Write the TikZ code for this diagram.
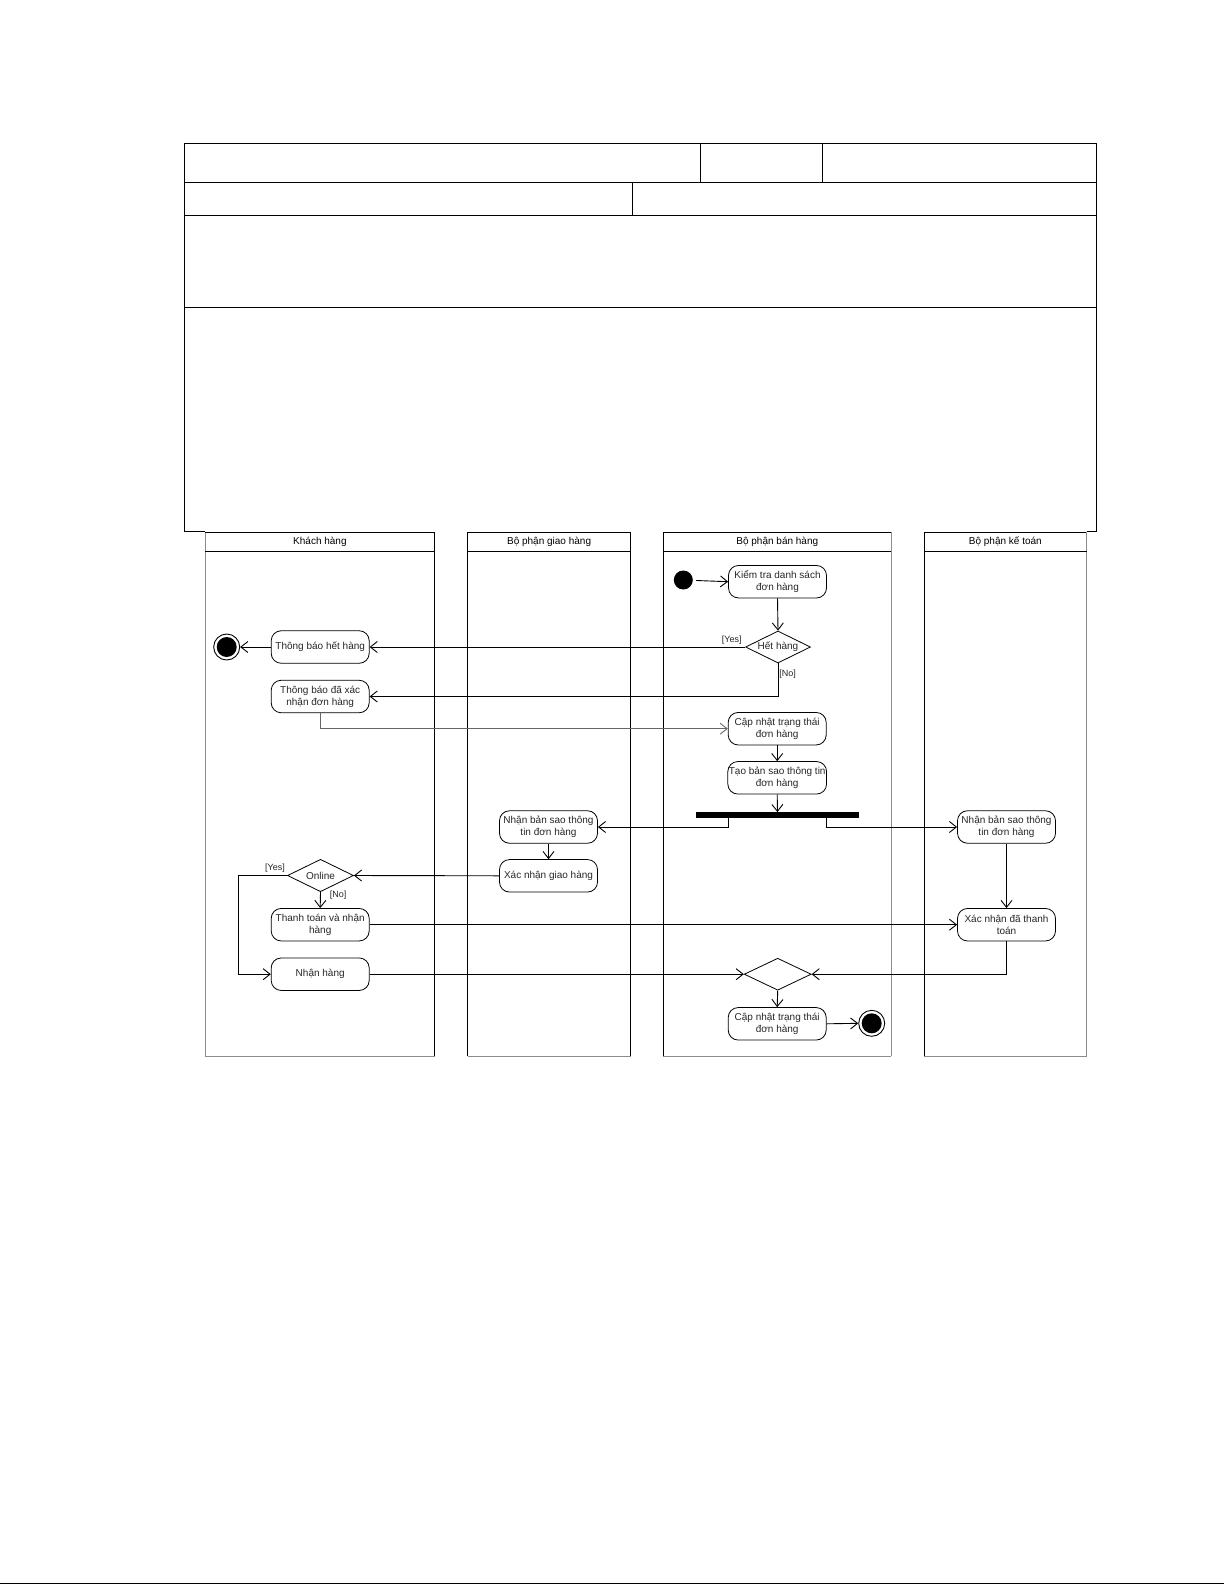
\documentclass[tikz,border=0pt]{standalone}
\usepackage{fontspec}
\setmainfont{Liberation Sans}
\usetikzlibrary{arrows.meta,shapes.geometric}
\begin{document}
\begin{tikzpicture}[x=1pt,y=-1pt,
  act/.style={draw=black, line width=0.8pt, rounded corners=10pt, minimum width=98pt, minimum height=32.5pt, inner sep=1pt, align=center, font=\fontsize{10}{12}\selectfont, text=black!85},
  decis/.style={draw=black, line width=0.8pt, diamond, aspect=2, inner sep=0pt, font=\fontsize{10}{12}\selectfont, text=black!85},
  guard/.style={font=\fontsize{9}{11}\selectfont, text=black!85, inner sep=0pt},
  lanehead/.style={font=\fontsize{10}{12}\selectfont, text=black, inner sep=0pt, text height=7.5pt, text depth=2pt},
  initst/.style={circle, fill=black, minimum size=19pt, inner sep=0pt},
  endst/.style={circle, draw=black, line width=0.9pt, minimum size=26pt, inner sep=0pt, path picture={\fill[black] (path picture bounding box.center) circle (10pt);}},
  flow/.style={line width=0.9pt, -{Straight Barb[length=7pt,width=11pt,line width=0.9pt]}},
  tabline/.style={line width=1.2pt, black},
  lanek/.style={line width=1pt, black},
  laneg/.style={line width=1pt, black!45}
]
\useasboundingbox (0,0) rectangle (1225,1585);
% ---------- table ----------
\draw[tabline] (184.3,531.7) -- (184.3,143.5) -- (1096.7,143.5) -- (1096.7,531.7);
\draw[tabline] (184.3,182.3) -- (1096.7,182.3);
\draw[tabline] (184.3,215.3) -- (1096.7,215.3);
\draw[tabline] (184.3,307.3) -- (1096.7,307.3);
\draw[tabline] (700.5,143.5) -- (700.5,182.3);
\draw[tabline] (822.6,143.5) -- (822.6,182.3);
\draw[tabline] (632.6,182.3) -- (632.6,215.3);
\draw[tabline] (184.3,531.7) -- (205.3,531.7);
\draw[tabline] (1086.7,531.5) -- (1096.7,531.5);
% page bottom line
\draw[line width=1.6pt] (0,1583.5) -- (1223.5,1583.5);
% ---------- swimlanes ----------
% Khach hang
\draw[laneg] (205.3,532.3) -- (205.3,1056);
\draw[lanek] (205.3,532.3) -- (434.5,532.3) -- (434.5,1056);
\draw[lanek] (205.3,551.7) -- (434.5,551.7);
\draw[laneg] (205.3,1056) -- (434.5,1056);
\node[lanehead] (hk) at (319.9,542.2) {Khách hàng};
% Bo phan giao hang
\draw[lanek] (467.5,1056) -- (467.5,532.3) -- (630.7,532.3) -- (630.7,1056);
\draw[lanek] (467.5,551.7) -- (630.7,551.7);
\draw[laneg] (467.5,1056) -- (630.7,1056);
\node[lanehead] (hg) at (549.1,542.2) {Bộ phận giao hàng};
% Bo phan ban hang
\draw[lanek] (663.3,1056) -- (663.3,532.3) -- (891.3,532.3);
\draw[laneg] (891.3,532.3) -- (891.3,1056);
\draw[lanek] (663.3,551.7) -- (891.3,551.7);
\draw[laneg] (663.3,1056) -- (891.3,1056);
\node[lanehead] (hb) at (777.3,542.2) {Bộ phận bán hàng};
% Bo phan ke toan
\draw[lanek] (924,1056) -- (924,532.3) -- (1086.7,532.3);
\draw[laneg] (1086.7,532.3) -- (1086.7,1056);
\draw[lanek] (924,551.7) -- (1086.7,551.7);
\draw[laneg] (924,1056) -- (1086.7,1056);
\node[lanehead] (hkt) at (1005.3,542.2) {Bộ phận kế toán};
% ---------- nodes ----------
\node[initst] (start) at (683.3,580) {};
\node[act] (kt) at (777.5,581.7) {Kiểm tra danh sách\\đơn hàng};
\node[decis, minimum width=65pt, minimum height=32pt] (hh) at (778,647) {Hết hàng};
\node[act] (tbhh) at (320.2,647) {Thông báo hết hàng};
\node[endst] (end1) at (226.7,647) {};
\node[act] (tbxn) at (320.2,696.5) {Thông báo đã xác\\nhận đơn hàng};
\node[act] (cn1) at (777.2,728.7) {Cập nhật trạng thái\\đơn hàng};
\node[act] (tao) at (777.2,777.8) {Tạo bản sao thông tin\\đơn hàng};
\node[fill=black, minimum width=163.6pt, minimum height=5.4pt, inner sep=0pt] (bar) at (777.5,815) {};
\node[act] (nbs1) at (548.5,827) {Nhận bản sao thông\\tin đơn hàng};
\node[act] (nbs2) at (1006.5,827) {Nhận bản sao thông\\tin đơn hàng};
\node[act] (xngh) at (548.5,875.8) {Xác nhận giao hàng};
\node[decis, minimum width=66pt, minimum height=32.4pt] (online) at (320.5,875.5) {Online};
\node[act] (tt) at (320.2,924.7) {Thanh toán và nhận\\hàng};
\node[act] (nh) at (320.2,974.2) {Nhận hàng};
\node[act] (xntt) at (1006.5,924.7) {Xác nhận đã thanh\\toán};
\node[decis, minimum width=67pt, minimum height=32pt] (merge) at (777.7,974.2) {};
\node[act] (cn2) at (777.2,1023.8) {Cập nhật trạng thái\\đơn hàng};
\node[endst] (end2) at (871.7,1023.3) {};
% guards
\node[guard] (gy1) at (731.7,640) {[Yes]};
\node[guard] (gn1) at (787.5,674) {[No]};
\node[guard] (gy2) at (275,868.3) {[Yes]};
\node[guard] (gn2) at (338,895) {[No]};
\coordinate (yesbend) at (238.3,875.5);
% ---------- connectors ----------
\draw[flow, shorten <=3pt] (start) -- (kt.west);
\draw[flow] (kt.south) -- (hh.north);
\draw[flow] (hh.west) -- (tbhh.east);
\draw[flow] (tbhh.west) -- (end1.west -| end1.east);
\draw[flow] (hh.south) |- (tbxn.east);
\draw[flow, line width=0.7pt, black!60] (tbxn.south) |- (cn1.west);
\draw[flow] (cn1.south) -- (tao.north);
\draw[flow] (tao.south) -- (bar.north);
\draw[flow] ([xshift=-48.8pt]bar.south) |- (nbs1.east);
\draw[flow] ([xshift=48.8pt]bar.south) |- (nbs2.west);
\draw[flow] (nbs1.south) -- (xngh.north);
\draw[flow] (xngh.west) -- (online.east);
\draw[flow] (online.west) -- (yesbend) |- (nh.west);
\draw[flow] (online.south) -- (tt.north);
\draw[flow] (tt.east) -- (xntt.west);
\draw[flow] (nbs2.south) -- (xntt.north);
\draw[flow] (nh.east) -- (merge.west);
\draw[flow] (xntt.south) |- (merge.east);
\draw[flow] (merge.south) -- (cn2.north);
\draw[flow] (cn2.east) -- (end2.west);
\end{tikzpicture}
\end{document}
